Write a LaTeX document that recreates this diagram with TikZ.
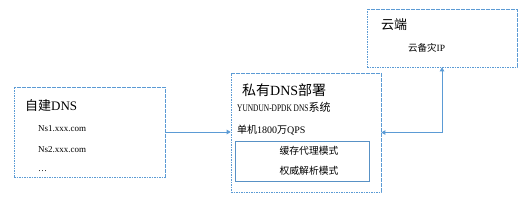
\documentclass[tikz,border=0pt]{standalone}
\usepackage{fontspec}
\setmainfont{Liberation Serif}
\newfontfamily\cjk{Noto Sans CJK SC}
\newfontfamily\lat[FakeStretch=0.74]{Liberation Serif}
\usetikzlibrary{arrows.meta}
\definecolor{bl}{RGB}{91,155,213}
\definecolor{bld}{RGB}{46,117,182}
\begin{document}
\begin{tikzpicture}[x=1pt,y=-1pt,
  dbox/.style={draw=bl,line width=0.7pt,dash pattern=on 1.6pt off 0.9pt,inner sep=0pt,fill=white},
  sbox/.style={draw=bld!80,line width=0.6pt,inner sep=0pt},
  arr/.style={draw=bl,line width=0.8pt,-{Triangle[length=4pt,width=4.5pt]}},
  biarr/.style={draw=bl,line width=0.8pt,{Triangle[length=4pt,width=4.5pt]}-{Triangle[length=4pt,width=4.5pt]}},
  big/.style={anchor=base west,inner sep=0pt,font=\fontsize{13}{15}\selectfont},
  sm/.style={anchor=base west,inner sep=0pt,font=\fontsize{9}{11}\selectfont},
  md/.style={anchor=base west,inner sep=0pt,font=\fontsize{10}{12}\selectfont},
  ctr/.style={anchor=base,inner sep=0pt,font=\fontsize{9.8}{11}\selectfont}]
\useasboundingbox (0,0) rectangle (528,202);
\node[dbox,minimum width=151pt,minimum height=90pt] (left) at (89.5,132) {};
\node[dbox,minimum width=150pt,minimum height=119pt] (mid) at (306,132.5) {};
\node[sbox,minimum width=134pt,minimum height=40pt] (inner) at (302,161) {};
\node[dbox,minimum width=150pt,minimum height=58pt] (cloud) at (442,38) {};
% texts
\node[big] (t1) at (25,110) {{\cjk 自建}DNS};
\node[sm] (t2) at (38,131) {Ns1.xxx.com};
\node[sm] (t3) at (38,152) {Ns2.xxx.com};
\node[sm] (t4) at (38,171) {…};
\node[big,font=\fontsize{14}{16}\selectfont] (t5) at (242,95) {{\cjk 私有}DNS{\cjk 部署}};
\node[md] (t6) at (237,111.5) {{\lat YUNDUN-DPDK DNS}{\cjk\fontsize{11}{12}\selectfont 系统}};
\node[md] (t7) at (237,133.5) {{\cjk 单机}1800{\cjk 万}QPS};
\node[ctr] (t8) at (309,154.5) {\cjk 缓存代理模式};
\node[ctr] (t9) at (309,174.5) {\cjk 权威解析模式};
\node[big] (t10) at (381,29) {\cjk 云端};
\node[sm,font=\fontsize{9.5}{11}\selectfont] (t11) at (408,51.5) {{\cjk 云备灾}IP};
% connectors
\draw[arr] (left.east) -- (left.east -| mid.west);
\draw[biarr] (mid.east) -| (cloud.south);
\end{tikzpicture}
\end{document}
